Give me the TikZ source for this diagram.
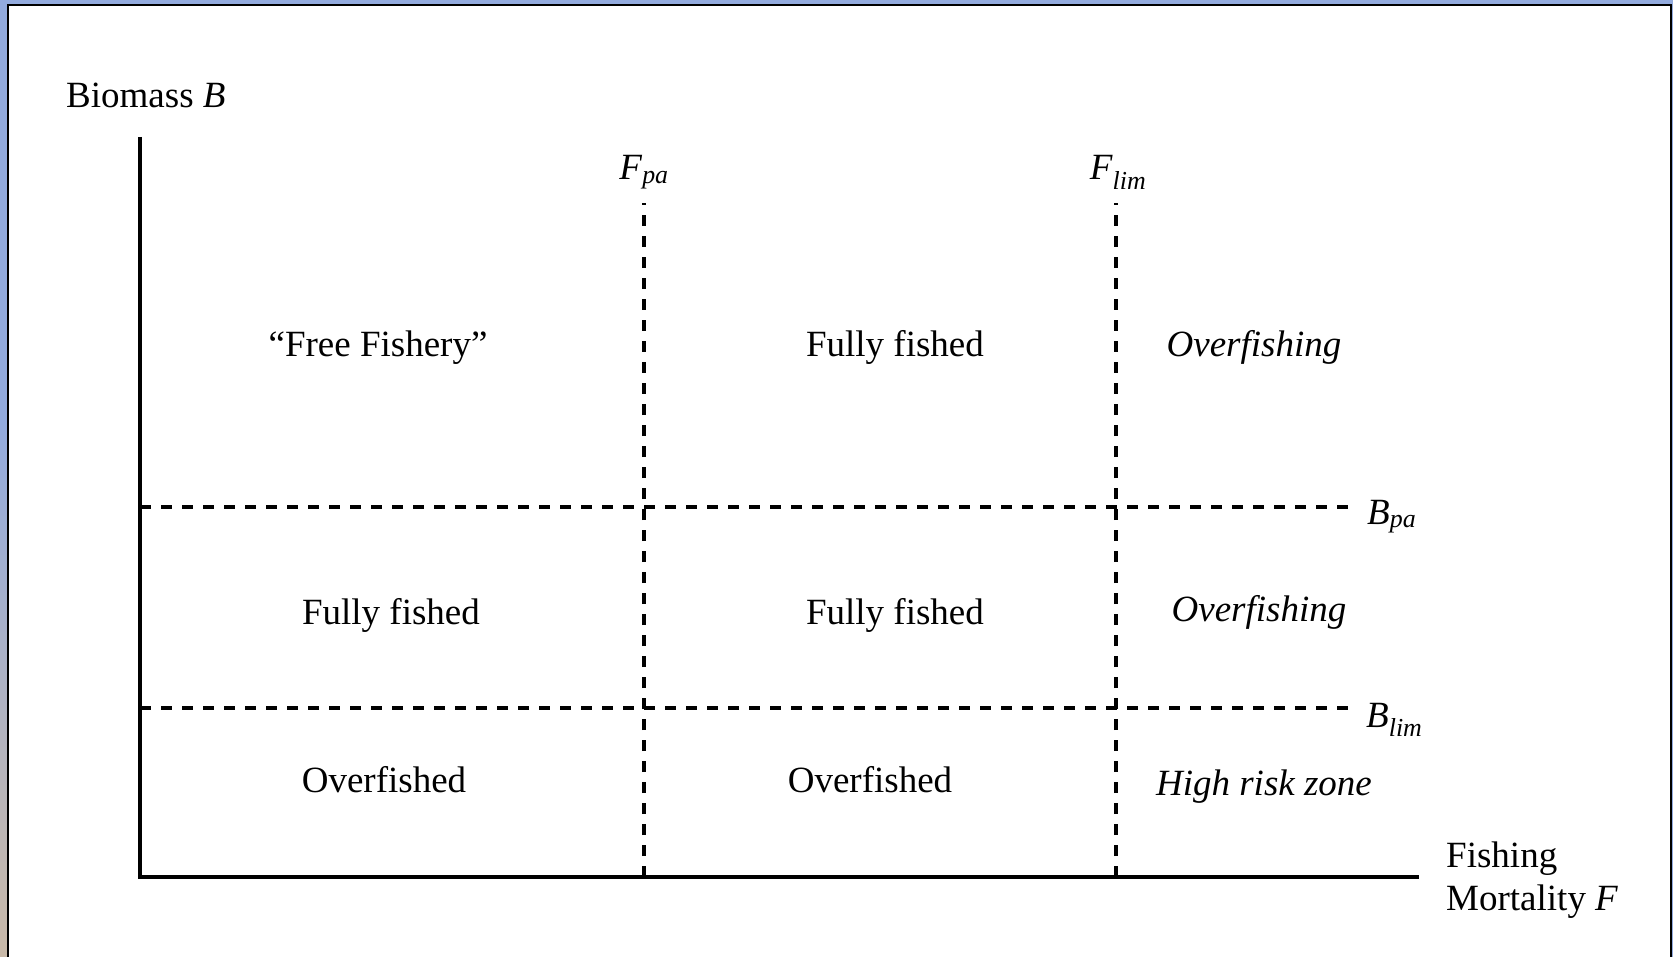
\documentclass[tikz,border=0pt]{standalone}
\usepackage{fontspec}
\setmainfont{Liberation Serif}
\definecolor{bgblue}{HTML}{93ABDE}
\definecolor{bgsand}{HTML}{C9B9A8}
\begin{document}
\begin{tikzpicture}[x=1pt,y=-1pt,
  lbl/.style={font=\fontsize{37}{43}\selectfont, inner sep=0pt},
  axisline/.style={line width=3.2pt},
  refline/.style={line width=4pt, dash pattern=on 11pt off 10pt},
  ]
\useasboundingbox (0,0) rectangle (1673,957);
\fill[bgblue] (0,0) rectangle (1673,957);
\shade[top color=bgblue, bottom color=bgsand] (0,420) rectangle (9,957);
\draw[fill=white, line width=2pt] (8,5) rectangle (1671,970);
% axes
\coordinate (O) at (140,877);
\coordinate (ytop) at (140,137);
\coordinate (xend) at (1419,877);
\draw[axisline] (ytop) -- (O) -- (xend);
% reference lines
\coordinate (fpaT) at (644,203);
\coordinate (fpaB) at (644,877);
\coordinate (flimT) at (1116,203);
\coordinate (flimB) at (1116,877);
\coordinate (bpaL) at (140,507);
\coordinate (bpaR) at (1353,507);
\coordinate (blimL) at (140,708);
\coordinate (blimR) at (1353,708);
\draw[refline] (fpaB) -- (fpaT);
\draw[refline] (flimB) -- (flimT);
\draw[refline] (bpaL) -- (bpaR);
\draw[refline] (blimL) -- (blimR);
% axis labels
\node[lbl, anchor=base west] (ylab) at (66,108) {Biomass \textit{B}};
\node[lbl, anchor=north west, align=left] (xlab) at (1446,842) {Fishing\\Mortality \textit{F}};
\node[lbl, anchor=base] (fpa) at (644,180) {\textit{F}\textsubscript{\textit{pa}}};
\node[lbl, anchor=base] (flim) at (1118,180) {\textit{F}\textsubscript{\textit{lim}}};
\node[lbl, anchor=base west] (bpa) at (1367,524) {\textit{B}\textsubscript{\textit{pa}}};
\node[lbl, anchor=base west] (blim) at (1366,727) {\textit{B}\textsubscript{\textit{lim}}};
% zone labels
\node[lbl, anchor=base] (z11) at (378,357) {``Free Fishery''};
\node[lbl, anchor=base] (z12) at (895,357) {Fully fished};
\node[lbl, anchor=base] (z13) at (1254,357) {\textit{Overfishing}};
\node[lbl, anchor=base] (z21) at (391,624) {Fully fished};
\node[lbl, anchor=base] (z22) at (895,624) {Fully fished};
\node[lbl, anchor=base] (z23) at (1259,621) {\textit{Overfishing}};
\node[lbl, anchor=base] (z31) at (384,792) {Overfished};
\node[lbl, anchor=base] (z32) at (870,792) {Overfished};
\node[lbl, anchor=base] (z33) at (1264,795) {\textit{High risk zone}};
\end{tikzpicture}
\end{document}
